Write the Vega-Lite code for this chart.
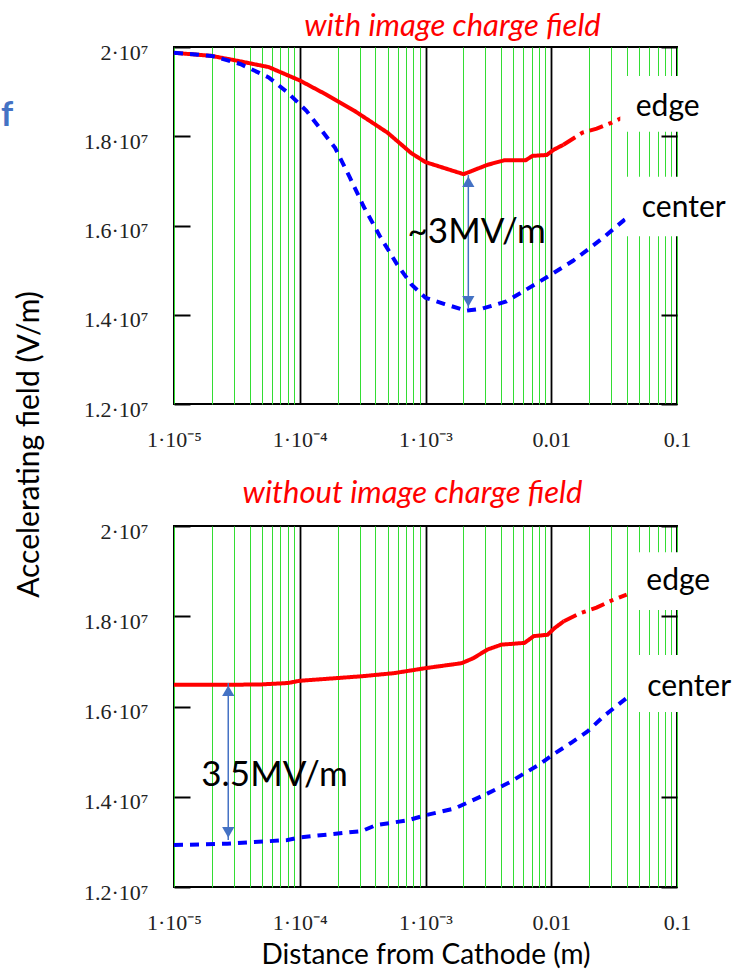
{
  "$schema": "https://vega.github.io/schema/vega-lite/v6.json",
  "background": "white",
  "padding": {"left": 0, "top": 10, "right": 0, "bottom": 0},
  "autosize": {"type": "pad"},
  "bounds": "flush",
  "spacing": 122,
  "config": {
    "view": {"stroke": "black", "strokeWidth": 2},
    "title": {"font": "Lato", "fontSize": 31, "fontStyle": "italic", "fontWeight": "normal", "color": "#ff0000", "anchor": "middle", "baseline": "alphabetic"}
  },
  "datasets": {
    "lines": [
      {"p": "top", "s": "edge", "x": 0.00001, "y": 19870000},
      {"p": "top", "s": "edge", "x": 0.00002, "y": 19800000},
      {"p": "top", "s": "edge", "x": 0.0000308, "y": 19700000},
      {"p": "top", "s": "edge", "x": 0.0000566, "y": 19550000},
      {"p": "top", "s": "edge", "x": 0.0001, "y": 19250000},
      {"p": "top", "s": "edge", "x": 0.000161, "y": 18940000},
      {"p": "top", "s": "edge", "x": 0.000272, "y": 18570000},
      {"p": "top", "s": "edge", "x": 0.000499, "y": 18080000},
      {"p": "top", "s": "edge", "x": 0.000772, "y": 17620000},
      {"p": "top", "s": "edge", "x": 0.001, "y": 17420000},
      {"p": "top", "s": "edge", "x": 0.00201, "y": 17150000},
      {"p": "top", "s": "edge", "x": 0.00311, "y": 17360000},
      {"p": "top", "s": "edge", "x": 0.00422, "y": 17460000},
      {"p": "top", "s": "edge", "x": 0.00624, "y": 17460000},
      {"p": "top", "s": "edge", "x": 0.0071, "y": 17560000},
      {"p": "top", "s": "edge", "x": 0.0092, "y": 17580000},
      {"p": "top", "s": "edge", "x": 0.0105, "y": 17700000},
      {"p": "top", "s": "edge", "x": 0.0125, "y": 17810000},
      {"p": "top", "s": "edgetail", "x": 0.0125, "y": 17810000},
      {"p": "top", "s": "edgetail", "x": 0.0177, "y": 18080000},
      {"p": "top", "s": "edgetail", "x": 0.023, "y": 18170000},
      {"p": "top", "s": "edgetail", "x": 0.03, "y": 18300000},
      {"p": "top", "s": "edgetail", "x": 0.037, "y": 18420000},
      {"p": "top", "s": "center", "x": 0.00001, "y": 19870000},
      {"p": "top", "s": "center", "x": 0.00002, "y": 19800000},
      {"p": "top", "s": "center", "x": 0.0000336, "y": 19620000},
      {"p": "top", "s": "center", "x": 0.0000566, "y": 19320000},
      {"p": "top", "s": "center", "x": 0.00008, "y": 18980000},
      {"p": "top", "s": "center", "x": 0.000113, "y": 18570000},
      {"p": "top", "s": "center", "x": 0.000191, "y": 17740000},
      {"p": "top", "s": "center", "x": 0.000249, "y": 17090000},
      {"p": "top", "s": "center", "x": 0.000323, "y": 16420000},
      {"p": "top", "s": "center", "x": 0.000438, "y": 15740000},
      {"p": "top", "s": "center", "x": 0.000594, "y": 15130000},
      {"p": "top", "s": "center", "x": 0.000772, "y": 14680000},
      {"p": "top", "s": "center", "x": 0.001, "y": 14380000},
      {"p": "top", "s": "center", "x": 0.00142, "y": 14240000},
      {"p": "top", "s": "center", "x": 0.0021, "y": 14090000},
      {"p": "top", "s": "center", "x": 0.00285, "y": 14140000},
      {"p": "top", "s": "center", "x": 0.0044, "y": 14300000},
      {"p": "top", "s": "center", "x": 0.00743, "y": 14680000},
      {"p": "top", "s": "center", "x": 0.0105, "y": 14940000},
      {"p": "top", "s": "center", "x": 0.0149, "y": 15210000},
      {"p": "top", "s": "center", "x": 0.0193, "y": 15450000},
      {"p": "top", "s": "center", "x": 0.0262, "y": 15740000},
      {"p": "top", "s": "center", "x": 0.0406, "y": 16190000},
      {"p": "bot", "s": "edge", "x": 0.00001, "y": 16480000},
      {"p": "bot", "s": "edge", "x": 0.0000265, "y": 16480000},
      {"p": "bot", "s": "edge", "x": 0.00005, "y": 16490000},
      {"p": "bot", "s": "edge", "x": 0.00008, "y": 16520000},
      {"p": "bot", "s": "edge", "x": 0.0001, "y": 16570000},
      {"p": "bot", "s": "edge", "x": 0.000158, "y": 16610000},
      {"p": "bot", "s": "edge", "x": 0.000312, "y": 16670000},
      {"p": "bot", "s": "edge", "x": 0.000565, "y": 16740000},
      {"p": "bot", "s": "edge", "x": 0.001, "y": 16850000},
      {"p": "bot", "s": "edge", "x": 0.00194, "y": 16960000},
      {"p": "bot", "s": "edge", "x": 0.0024, "y": 17070000},
      {"p": "bot", "s": "edge", "x": 0.0031, "y": 17260000},
      {"p": "bot", "s": "edge", "x": 0.004, "y": 17370000},
      {"p": "bot", "s": "edge", "x": 0.00613, "y": 17410000},
      {"p": "bot", "s": "edge", "x": 0.00726, "y": 17560000},
      {"p": "bot", "s": "edge", "x": 0.00935, "y": 17590000},
      {"p": "bot", "s": "edge", "x": 0.01065, "y": 17740000},
      {"p": "bot", "s": "edge", "x": 0.0126, "y": 17890000},
      {"p": "bot", "s": "edgetail", "x": 0.0126, "y": 17890000},
      {"p": "bot", "s": "edgetail", "x": 0.017, "y": 18070000},
      {"p": "bot", "s": "edgetail", "x": 0.0229, "y": 18190000},
      {"p": "bot", "s": "edgetail", "x": 0.0308, "y": 18360000},
      {"p": "bot", "s": "edgetail", "x": 0.0398, "y": 18480000},
      {"p": "bot", "s": "center", "x": 0.00001, "y": 12930000},
      {"p": "bot", "s": "center", "x": 0.0000265, "y": 12960000},
      {"p": "bot", "s": "center", "x": 0.00008, "y": 13040000},
      {"p": "bot", "s": "center", "x": 0.0001, "y": 13100000},
      {"p": "bot", "s": "center", "x": 0.000312, "y": 13240000},
      {"p": "bot", "s": "center", "x": 0.000403, "y": 13370000},
      {"p": "bot", "s": "center", "x": 0.000729, "y": 13480000},
      {"p": "bot", "s": "center", "x": 0.001, "y": 13590000},
      {"p": "bot", "s": "center", "x": 0.00171, "y": 13740000},
      {"p": "bot", "s": "center", "x": 0.0031, "y": 14070000},
      {"p": "bot", "s": "center", "x": 0.00474, "y": 14330000},
      {"p": "bot", "s": "center", "x": 0.00612, "y": 14520000},
      {"p": "bot", "s": "center", "x": 0.0079, "y": 14700000},
      {"p": "bot", "s": "center", "x": 0.01065, "y": 14960000},
      {"p": "bot", "s": "center", "x": 0.0143, "y": 15190000},
      {"p": "bot", "s": "center", "x": 0.0193, "y": 15440000},
      {"p": "bot", "s": "center", "x": 0.026, "y": 15780000},
      {"p": "bot", "s": "center", "x": 0.0398, "y": 16190000}
    ],
    "ann": [
      {"p": "top", "k": "box", "x": 0.0354, "x2": 0.2, "y": 19350000, "y2": 18100000},
      {"p": "top", "k": "box", "x": 0.039, "x2": 0.2, "y": 17090000, "y2": 15760000},
      {"p": "bot", "k": "box", "x": 0.0435, "x2": 0.2, "y": 19420000, "y2": 18140000},
      {"p": "bot", "k": "box", "x": 0.0435, "x2": 0.2, "y": 17140000, "y2": 15880000},
      {"p": "top", "k": "lab", "x": 0.047, "y": 18660000, "t": "edge"},
      {"p": "top", "k": "lab", "x": 0.0525, "y": 16390000, "t": "center"},
      {"p": "bot", "k": "lab", "x": 0.057, "y": 18780000, "t": "edge"},
      {"p": "bot", "k": "lab", "x": 0.058, "y": 16430000, "t": "center"},
      {"p": "top", "k": "note", "x": 0.00255, "y": 15850000, "t": "~3MV/m"},
      {"p": "bot", "k": "note", "x": 0.000063, "y": 14480000, "t": "3.5MV/m"},
      {"p": "top", "k": "arrow", "x": 0.00219, "y": 17130000, "y2": 14150000},
      {"p": "bot", "k": "arrow", "x": 0.000027, "y": 16520000, "y2": 13040000},
      {"p": "top", "k": "head", "h": "up", "x": 0.00219, "y": 16980000},
      {"p": "top", "k": "head", "h": "down", "x": 0.00219, "y": 14300000},
      {"p": "bot", "k": "head", "h": "up", "x": 0.000027, "y": 16350000},
      {"p": "bot", "k": "head", "h": "down", "x": 0.000027, "y": 13210000},
      {"p": "top", "k": "f", "x": 0.000000421, "y": 18450000, "t": "f"}
    ]
  },
  "vconcat": [
    {
      "width": 503,
      "height": 357,
      "title": {"text": "with image charge field", "offset": -2, "dx": 27},
      "resolve": {"axis": {"y": "independent"}},
      "layer": [
        {
          "data": {"name": "lines"},
          "transform": [{"filter": "datum.p == 'top'"}],
          "mark": {"type": "line", "strokeWidth": 4, "clip": false},
          "encoding": {
            "x": {"field": "x", "type": "quantitative", "scale": {"type": "log", "domain": [0.00001, 0.1], "nice": false},
              "axis": {"title": null, "values": [0.00001, 0.00002, 0.00003, 0.00004, 0.00005, 0.00006, 0.00007, 0.00008, 0.00009, 0.0001, 0.0002, 0.0003, 0.0004, 0.0005, 0.0006, 0.0007, 0.0008, 0.0009, 0.001, 0.002, 0.003, 0.004, 0.005, 0.006, 0.007, 0.008, 0.009, 0.01, 0.02, 0.03, 0.04, 0.05, 0.06, 0.07, 0.08, 0.09, 0.1],
                "labelExpr": "datum.value == 0.00001 ? '1·10⁻⁵' : datum.value == 0.0001 ? '1·10⁻⁴' : datum.value == 0.001 ? '1·10⁻³' : datum.value == 0.01 ? '0.01' : datum.value == 0.1 ? '0.1' : ''",
                "grid": true,
                "gridColor": {"condition": {"test": "datum.value == 0.0001 || datum.value == 0.001 || datum.value == 0.01", "value": "#000000"}, "value": "#33dd33"},
                "gridWidth": {"condition": {"test": "datum.value == 0.0001 || datum.value == 0.001 || datum.value == 0.01", "value": 1.8}, "value": 1},
                "ticks": false, "domain": false, "labelFont": "Liberation Serif", "labelFontSize": 22, "labelColor": "#222222", "labelPadding": 25, "labelFlush": false, "labelOverlap": false}},
            "y": {"field": "y", "type": "quantitative", "scale": {"domain": [12000000, 20000000], "nice": false, "zero": false},
              "axis": {"values": [12000000, 14000000, 16000000, 18000000, 20000000],
                "labelExpr": "format(datum.value / 10000000, '.1~f') + '·10⁷'",
                "grid": false, "domain": false, "ticks": true, "tickSize": -16, "tickWidth": 2, "tickColor": "#000000",
                "labelFont": "Liberation Serif", "labelFontSize": 22, "labelColor": "#222222", "labelPadding": 42, "labelOffset": 5, "labelFlush": false, "labelOverlap": false,
                "title": "Accelerating field (V/m)", "titleFont": "Lato", "titleFontSize": 30, "titleFontWeight": "normal", "titleColor": "#000000",
                "titleX": -145, "titleY": 397, "titleAngle": -90, "titleBaseline": "middle", "titleAlign": "center"}},
            "color": {"field": "s", "type": "nominal", "scale": {"domain": ["edge", "edgetail", "center"], "range": ["#ff0000", "#ff0000", "#0000ff"]}, "legend": null},
            "strokeDash": {"field": "s", "type": "nominal", "scale": {"domain": ["edge", "edgetail", "center"], "range": [[1, 0], [14, 6, 4, 6], [9, 7]]}, "legend": null}
          }
        },
        {
          "data": {"name": "ann"},
          "transform": [{"filter": "datum.p == 'top' && datum.k == 'box'"}],
          "mark": {"type": "rect", "fill": "white", "clip": false},
          "encoding": {
            "x": {"field": "x", "type": "quantitative", "scale": {"type": "log", "domain": [0.00001, 0.1], "nice": false}},
            "x2": {"field": "x2"},
            "y": {"field": "y", "type": "quantitative", "scale": {"domain": [12000000, 20000000], "nice": false, "zero": false},
              "axis": {"orient": "right", "values": [12000000, 14000000, 16000000, 18000000, 20000000], "labels": false, "grid": false, "domain": false, "ticks": true, "tickSize": -16, "tickWidth": 2, "tickColor": "#000000", "title": null}},
            "y2": {"field": "y2"}
          }
        },
        {
          "data": {"name": "ann"},
          "transform": [{"filter": "datum.p == 'top' && datum.k == 'lab'"}],
          "mark": {"type": "text", "font": "Lato", "fontSize": 30, "align": "left", "baseline": "middle", "color": "#000000", "clip": false},
          "encoding": {
            "x": {"field": "x", "type": "quantitative", "scale": {"type": "log", "domain": [0.00001, 0.1], "nice": false}},
            "y": {"field": "y", "type": "quantitative", "scale": {"domain": [12000000, 20000000], "nice": false, "zero": false}, "axis": null},
            "text": {"field": "t"}
          }
        },
        {
          "data": {"name": "ann"},
          "transform": [{"filter": "datum.p == 'top' && datum.k == 'f'"}],
          "mark": {"type": "text", "font": "Lato", "fontSize": 34, "fontWeight": "bold", "align": "left", "baseline": "middle", "color": "#4472c4", "clip": false},
          "encoding": {
            "x": {"field": "x", "type": "quantitative", "scale": {"type": "log", "domain": [0.00001, 0.1], "nice": false}},
            "y": {"field": "y", "type": "quantitative", "scale": {"domain": [12000000, 20000000], "nice": false, "zero": false}, "axis": null},
            "text": {"field": "t"}
          }
        },
        {
          "data": {"name": "ann"},
          "transform": [{"filter": "datum.p == 'top' && datum.k == 'arrow'"}],
          "mark": {"type": "rule", "color": "#4472c4", "strokeWidth": 1.5},
          "encoding": {
            "x": {"field": "x", "type": "quantitative", "scale": {"type": "log", "domain": [0.00001, 0.1], "nice": false}},
            "y": {"field": "y", "type": "quantitative", "scale": {"domain": [12000000, 20000000], "nice": false, "zero": false}, "axis": null},
            "y2": {"field": "y2"}
          }
        },
        {
          "data": {"name": "ann"},
          "transform": [{"filter": "datum.p == 'top' && datum.k == 'head'"}],
          "mark": {"type": "point", "filled": true, "color": "#4472c4", "size": 150, "opacity": 1},
          "encoding": {
            "x": {"field": "x", "type": "quantitative", "scale": {"type": "log", "domain": [0.00001, 0.1], "nice": false}},
            "y": {"field": "y", "type": "quantitative", "scale": {"domain": [12000000, 20000000], "nice": false, "zero": false}, "axis": null},
            "shape": {"field": "h", "type": "nominal", "scale": {"domain": ["up", "down"], "range": ["triangle-up", "triangle-down"]}, "legend": null}
          }
        },
        {
          "data": {"name": "ann"},
          "transform": [{"filter": "datum.p == 'top' && datum.k == 'note'"}],
          "mark": {"type": "text", "font": "Lato", "fontSize": 35, "align": "center", "baseline": "middle", "color": "#000000", "clip": false},
          "encoding": {
            "x": {"field": "x", "type": "quantitative", "scale": {"type": "log", "domain": [0.00001, 0.1], "nice": false}},
            "y": {"field": "y", "type": "quantitative", "scale": {"domain": [12000000, 20000000], "nice": false, "zero": false}, "axis": null},
            "text": {"field": "t"}
          }
        }
      ]
    },
    {
      "width": 503,
      "height": 361,
      "title": {"text": "without image charge field", "offset": 10, "dx": -13},
      "resolve": {"axis": {"y": "independent"}},
      "layer": [
        {
          "data": {"name": "lines"},
          "transform": [{"filter": "datum.p == 'bot'"}],
          "mark": {"type": "line", "strokeWidth": 4, "clip": false},
          "encoding": {
            "x": {"field": "x", "type": "quantitative", "scale": {"type": "log", "domain": [0.00001, 0.1], "nice": false},
              "axis": {"title": "Distance from Cathode (m)", "titleFont": "Lato", "titleFontSize": 28, "titleFontWeight": "normal", "titleColor": "#000000", "titlePadding": 8,
                "values": [0.00001, 0.00002, 0.00003, 0.00004, 0.00005, 0.00006, 0.00007, 0.00008, 0.00009, 0.0001, 0.0002, 0.0003, 0.0004, 0.0005, 0.0006, 0.0007, 0.0008, 0.0009, 0.001, 0.002, 0.003, 0.004, 0.005, 0.006, 0.007, 0.008, 0.009, 0.01, 0.02, 0.03, 0.04, 0.05, 0.06, 0.07, 0.08, 0.09, 0.1],
                "labelExpr": "datum.value == 0.00001 ? '1·10⁻⁵' : datum.value == 0.0001 ? '1·10⁻⁴' : datum.value == 0.001 ? '1·10⁻³' : datum.value == 0.01 ? '0.01' : datum.value == 0.1 ? '0.1' : ''",
                "grid": true,
                "gridColor": {"condition": {"test": "datum.value == 0.0001 || datum.value == 0.001 || datum.value == 0.01", "value": "#000000"}, "value": "#33dd33"},
                "gridWidth": {"condition": {"test": "datum.value == 0.0001 || datum.value == 0.001 || datum.value == 0.01", "value": 1.8}, "value": 1},
                "ticks": false, "domain": false, "labelFont": "Liberation Serif", "labelFontSize": 22, "labelColor": "#222222", "labelPadding": 25, "labelFlush": false, "labelOverlap": false}},
            "y": {"field": "y", "type": "quantitative", "scale": {"domain": [12000000, 20000000], "nice": false, "zero": false},
              "axis": {"values": [12000000, 14000000, 16000000, 18000000, 20000000],
                "labelExpr": "format(datum.value / 10000000, '.1~f') + '·10⁷'",
                "grid": false, "domain": false, "ticks": true, "tickSize": -16, "tickWidth": 2, "tickColor": "#000000",
                "labelFont": "Liberation Serif", "labelFontSize": 22, "labelColor": "#222222", "labelPadding": 42, "labelOffset": 5, "labelFlush": false, "labelOverlap": false,
                "title": null}},
            "color": {"field": "s", "type": "nominal", "scale": {"domain": ["edge", "edgetail", "center"], "range": ["#ff0000", "#ff0000", "#0000ff"]}, "legend": null},
            "strokeDash": {"field": "s", "type": "nominal", "scale": {"domain": ["edge", "edgetail", "center"], "range": [[1, 0], [14, 6, 4, 6], [9, 7]]}, "legend": null}
          }
        },
        {
          "data": {"name": "ann"},
          "transform": [{"filter": "datum.p == 'bot' && datum.k == 'box'"}],
          "mark": {"type": "rect", "fill": "white", "clip": false},
          "encoding": {
            "x": {"field": "x", "type": "quantitative", "scale": {"type": "log", "domain": [0.00001, 0.1], "nice": false}},
            "x2": {"field": "x2"},
            "y": {"field": "y", "type": "quantitative", "scale": {"domain": [12000000, 20000000], "nice": false, "zero": false},
              "axis": {"orient": "right", "values": [12000000, 14000000, 16000000, 18000000, 20000000], "labels": false, "grid": false, "domain": false, "ticks": true, "tickSize": -16, "tickWidth": 2, "tickColor": "#000000", "title": null}},
            "y2": {"field": "y2"}
          }
        },
        {
          "data": {"name": "ann"},
          "transform": [{"filter": "datum.p == 'bot' && datum.k == 'lab'"}],
          "mark": {"type": "text", "font": "Lato", "fontSize": 30, "align": "left", "baseline": "middle", "color": "#000000", "clip": false},
          "encoding": {
            "x": {"field": "x", "type": "quantitative", "scale": {"type": "log", "domain": [0.00001, 0.1], "nice": false}},
            "y": {"field": "y", "type": "quantitative", "scale": {"domain": [12000000, 20000000], "nice": false, "zero": false}, "axis": null},
            "text": {"field": "t"}
          }
        },
        {
          "data": {"name": "ann"},
          "transform": [{"filter": "datum.p == 'bot' && datum.k == 'arrow'"}],
          "mark": {"type": "rule", "color": "#4472c4", "strokeWidth": 1.5},
          "encoding": {
            "x": {"field": "x", "type": "quantitative", "scale": {"type": "log", "domain": [0.00001, 0.1], "nice": false}},
            "y": {"field": "y", "type": "quantitative", "scale": {"domain": [12000000, 20000000], "nice": false, "zero": false}, "axis": null},
            "y2": {"field": "y2"}
          }
        },
        {
          "data": {"name": "ann"},
          "transform": [{"filter": "datum.p == 'bot' && datum.k == 'head'"}],
          "mark": {"type": "point", "filled": true, "color": "#4472c4", "size": 150, "opacity": 1},
          "encoding": {
            "x": {"field": "x", "type": "quantitative", "scale": {"type": "log", "domain": [0.00001, 0.1], "nice": false}},
            "y": {"field": "y", "type": "quantitative", "scale": {"domain": [12000000, 20000000], "nice": false, "zero": false}, "axis": null},
            "shape": {"field": "h", "type": "nominal", "scale": {"domain": ["up", "down"], "range": ["triangle-up", "triangle-down"]}, "legend": null}
          }
        },
        {
          "data": {"name": "ann"},
          "transform": [{"filter": "datum.p == 'bot' && datum.k == 'note'"}],
          "mark": {"type": "text", "font": "Lato", "fontSize": 35, "align": "center", "baseline": "middle", "color": "#000000", "clip": false},
          "encoding": {
            "x": {"field": "x", "type": "quantitative", "scale": {"type": "log", "domain": [0.00001, 0.1], "nice": false}},
            "y": {"field": "y", "type": "quantitative", "scale": {"domain": [12000000, 20000000], "nice": false, "zero": false}, "axis": null},
            "text": {"field": "t"}
          }
        }
      ]
    }
  ]
}
